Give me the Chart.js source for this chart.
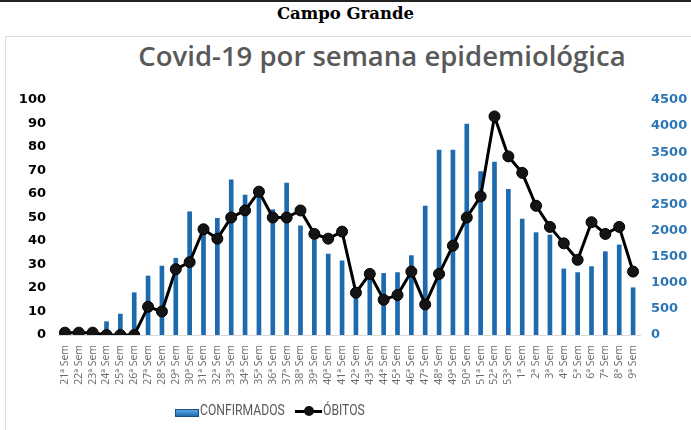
<!DOCTYPE html>
<html>
<head>
<meta charset="utf-8">
<script src="https://cdn.jsdelivr.net/npm/chart.js@4.4.1/dist/chart.umd.min.js"></script>
<style>
    body { margin: 0; background: #fff; }
    #wrap { position: relative; width: 691px; height: 430px; overflow: hidden; background: #fff; }
    #topline { position: absolute; left: 0; top: 0; width: 691px; height: 2px; background: #222; }
    #city { position: absolute; left: 0; top: 4px; width: 691px; text-align: center;
        font: bold 16.5px "DejaVu Serif", serif; color: #000; }
    #box { position: absolute; left: 5px; top: 36px; width: 700px; height: 420px; border: 1px solid #dcdcdc; }
    #title { position: absolute; left: 90px; top: 37px; width: 584px; text-align: center;
        font: 600 27.5px "Open Sans", sans-serif; color: #595959; }
    .lg-text { position: absolute; top: 402px; font: 14.5px Roboto, sans-serif; color: #595959;
        transform: scaleX(0.84); transform-origin: left center; white-space: nowrap; }
    .sw-bar { position: absolute; left: 175px; top: 409px; width: 22px; height: 6px;
        background: linear-gradient(#5aa8e6, #1d6aae); border: 1px solid #174f85; }
    .sw-line { position: absolute; left: 295px; top: 406px; width: 27px; height: 10px; }
    .sw-line::before { content: ""; position: absolute; left: 0; top: 4px; width: 27px; height: 3px; background: #000; }
    .sw-line::after { content: ""; position: absolute; left: 9px; top: 0; width: 10px; height: 10px; border-radius: 50%; background: #111; }
    canvas { position: absolute; left: 0; top: 0; }
</style>
</head>
<body>
<div id="wrap">
    <div id="topline"></div>
    <div id="city">Campo Grande</div>
    <div id="box"></div>
    <div id="title">Covid-19 por semana epidemiológica</div>
    <canvas id="myChart" width="691" height="430"></canvas>
    <span class="sw-bar"></span><span class="lg-text" style="left:200px">CONFIRMADOS</span>
    <span class="sw-line"></span><span class="lg-text" style="left:323px">ÓBITOS</span>
</div>
<script>
// Weeks (epidemiological weeks 21 to 53, then 1 to 9)
const weeks = [
    '21ª Sem', '22ª Sem', '23ª Sem', '24ª Sem', '25ª Sem', '26ª Sem', '27ª Sem', '28ª Sem',
    '29ª Sem', '30ª Sem', '31ª Sem', '32ª Sem', '33ª Sem', '34ª Sem', '35ª Sem', '36ª Sem',
    '37ª Sem', '38ª Sem', '39ª Sem', '40ª Sem', '41ª Sem', '42ª Sem', '43ª Sem', '44ª Sem',
    '45ª Sem', '46ª Sem', '47ª Sem', '48ª Sem', '49ª Sem', '50ª Sem', '51ª Sem', '52ª Sem',
    '53ª Sem', '1ª Sem', '2ª Sem', '3ª Sem', '4ª Sem', '5ª Sem', '6ª Sem', '7ª Sem',
    '8ª Sem', '9ª Sem'
];

// Confirmed cases per week (right axis)
const confirmados = [
    0, 0, 0, 255, 400, 810, 1130, 1320, 1470, 2360, 2050, 2235, 2970, 2680, 2750, 2400,
    2910, 2090, 1820, 1550, 1420, 900, 1080, 1180, 1195, 1520, 2470, 3540, 3540, 4040,
    3130, 3310, 2790, 2220, 1960, 1915, 1265, 1195, 1310, 1595, 1725, 905
];

// Deaths per week (left axis)
const obitos = [
    1, 1, 1, 0, 0, 0, 12, 10, 28, 31, 45, 41, 50, 53, 61, 50, 50, 53, 43, 41, 44,
    18, 26, 15, 17, 27, 13, 26, 38, 50, 59, 93, 76, 69, 55, 46, 39, 32, 48, 43, 46, 27
];

const leftTicks = { min: 0, max: 100, step: 10 };
const rightTicks = { min: 0, max: 4500, step: 500 };

const ctx = document.getElementById('myChart').getContext('2d');
new Chart(ctx, {
    data: {
        labels: weeks,
        datasets: [
            {
                type: 'line',
                label: 'ÓBITOS',
                data: obitos,
                yAxisID: 'y',
                borderColor: '#000',
                borderWidth: 3,
                pointRadius: 5.5,
                pointBackgroundColor: '#141414',
                pointBorderColor: '#000',
                pointBorderWidth: 1,
                tension: 0,
                order: 0
            },
            {
                type: 'bar',
                label: 'CONFIRMADOS',
                data: confirmados,
                yAxisID: 'y1',
                backgroundColor: '#1d6aae',
                barThickness: 4,
                order: 1
            }
        ]
    },
    options: {
        responsive: false,
        animation: false,
        layout: { padding: { top: 100, bottom: 0, left: 0, right: 0 } },
        plugins: {
            legend: { display: false },
            title: { display: false },
            tooltip: { enabled: false }
        },
        scales: {
            x: {
                offset: true,
                grid: { display: false },
                border: { display: true, color: '#d9d9d9' },
                ticks: {
                    autoSkip: false,
                    minRotation: 90,
                    maxRotation: 90,
                    padding: 2,
                    color: '#6a6a6a',
                    font: { family: 'Open Sans', size: 10.5 }
                },
                afterFit: s => { s.height = 95; }
            },
            y: {
                position: 'left',
                min: leftTicks.min,
                max: leftTicks.max,
                grid: { display: false, drawTicks: false },
                border: { display: false },
                ticks: {
                    stepSize: leftTicks.step,
                    padding: 12,
                    color: '#000',
                    font: { family: 'DejaVu Sans', size: 13, weight: 'bold' },
                    callback: v => String(v)
                },
                afterFit: s => { s.width = 58; }
            },
            y1: {
                position: 'right',
                min: rightTicks.min,
                max: rightTicks.max,
                grid: { display: false, drawTicks: false },
                border: { display: false },
                ticks: {
                    stepSize: rightTicks.step,
                    padding: 11,
                    color: '#2e75b6',
                    font: { family: 'DejaVu Sans', size: 13, weight: 'bold' },
                    callback: v => String(v)
                },
                afterFit: s => { s.width = 51; }
            }
        }
    }
});
</script>
</body>
</html>
